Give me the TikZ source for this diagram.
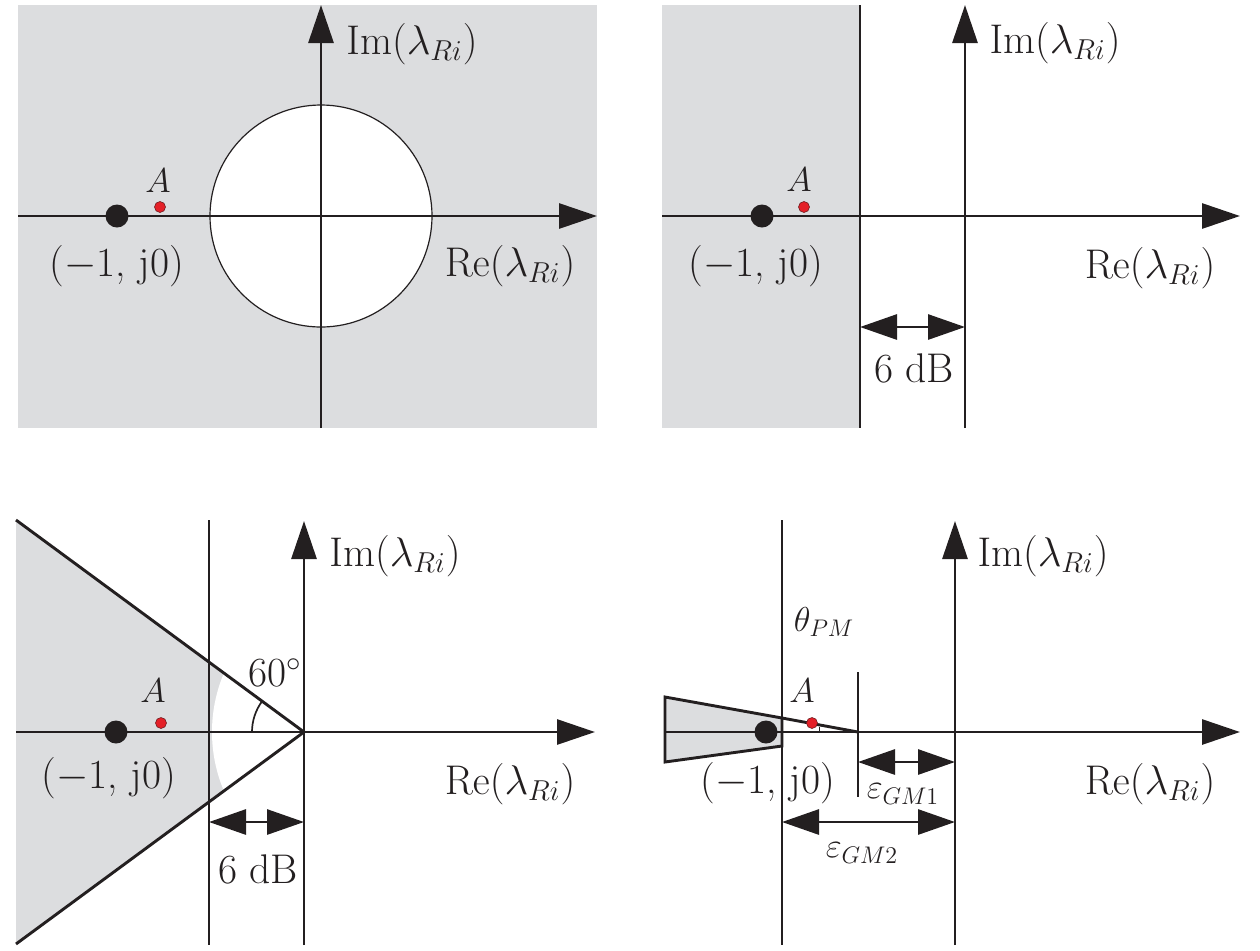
\documentclass[tikz,border=0pt]{standalone}
\usetikzlibrary{arrows.meta}
\definecolor{lgray}{RGB}{220,221,223}
\definecolor{ink}{RGB}{35,31,32}
\definecolor{dotred}{RGB}{228,32,40}
\begin{document}
\begin{tikzpicture}[x=0.5pt,y=-0.5pt,
  axis/.style={draw=ink,line width=1.45pt,-{Triangle[length=19pt,width=12.5pt]}},
  dimarrow/.style={draw=ink,line width=1.45pt,{Triangle[length=18.5pt,width=12.5pt]}-{Triangle[length=18.5pt,width=12.5pt]}},
  bound/.style={draw=ink,line width=1.45pt},
  lbl/.style={inner sep=0pt,font=\fontsize{20.74}{24}\selectfont,text=ink},
  albl/.style={inner sep=0pt,font=\fontsize{17.28}{20}\selectfont,text=ink},
  mlbl/.style={inner sep=0pt,font=\fontsize{17.28}{20}\selectfont,text=ink},
  bigdot/.style={circle,fill=ink,minimum size=11.5pt,inner sep=0pt},
  reddot/.style={circle,fill=dotred,draw=ink!60!dotred,line width=0.3pt,minimum size=5.5pt,inner sep=0pt},
]
\useasboundingbox (0,0) rectangle (1260,950);

% ---------------- Panel 1 ----------------
\fill[lgray] (18,5) rectangle (597,428);
\fill[white] (321,216) circle (111);
\draw[ink,line width=0.6pt] (321,216) circle (111);
\coordinate (p1xl) at (18,216);
\coordinate (p1xr) at (597,216);
\coordinate (p1yb) at (321,428);
\coordinate (p1yt) at (321,5);
\draw[axis] (p1xl) -- (p1xr);
\draw[axis] (p1yb) -- (p1yt);
\node[bigdot] (p1m) at (117,216) {};
\node[reddot] (p1a) at (160,207) {};
\node[albl] (p1A) at (158,181) {$A$};
\node[lbl] (p1pt) at (117,266) {($-$1, j0)};
\node[lbl] (p1re) at (510,266) {$\mathrm{Re}(\lambda_{Ri})$};
\node[lbl] (p1im) at (412,44) {$\mathrm{Im}(\lambda_{Ri})$};

% ---------------- Panel 2 ----------------
\fill[lgray] (662,5) rectangle (860,428);
\coordinate (p2vt) at (860,5);
\coordinate (p2vb) at (860,428);
\draw[bound] (p2vt) -- (p2vb);
\coordinate (p2xl) at (662,216);
\coordinate (p2xr) at (1240,216);
\coordinate (p2yb) at (965,428);
\coordinate (p2yt) at (965,5);
\draw[axis] (p2xl) -- (p2xr);
\draw[axis] (p2yb) -- (p2yt);
\node[bigdot] (p2m) at (762,216) {};
\node[reddot] (p2a) at (804,207) {};
\node[albl] (p2A) at (799,180) {$A$};
\node[lbl] (p2pt) at (756,266) {($-$1, j0)};
\node[lbl] (p2re) at (1150,268) {$\mathrm{Re}(\lambda_{Ri})$};
\node[lbl] (p2im) at (1055,43) {$\mathrm{Im}(\lambda_{Ri})$};
\coordinate (p2dl) at (860,327);
\coordinate (p2dr) at (965,327);
\draw[dimarrow] (p2dl) -- (p2dr);
\node[lbl] (p2db) at (914,368) {6 dB};

% ---------------- Panel 3 ----------------
\coordinate (p3c1) at (16,520);
\coordinate (p3o) at (304,732);
\coordinate (p3c2) at (16,944);
\fill[lgray] (p3c1) -- (p3o) -- (p3c2) -- cycle;
\begin{scope}
  \clip (209,600) rectangle (304,860);
  \fill[white] (363,732) circle (151);
\end{scope}
\draw[bound] (p3c1) -- (p3o) -- (p3c2);
\coordinate (p3vt) at (209,520);
\coordinate (p3vb) at (209,945);
\draw[bound] (p3vt) -- (p3vb);
\coordinate (p3xl) at (16,732);
\coordinate (p3xr) at (595,732);
\coordinate (p3yb) at (304,945);
\coordinate (p3yt) at (304,521);
\draw[axis] (p3xl) -- (p3xr);
\draw[axis] (p3yb) -- (p3yt);
\draw[ink,line width=0.85pt] (252,732) arc[start angle=180,end angle=216.4,radius=52];
\node[lbl] (p3ang) at (275,673) {60$^\circ$};
\node[bigdot] (p3m) at (116,732) {};
\node[reddot] (p3a) at (161,723) {};
\node[albl] (p3A) at (153,691) {$A$};
\node[lbl] (p3pt) at (109,778) {($-$1, j0)};
\node[lbl] (p3re) at (510,784) {$\mathrm{Re}(\lambda_{Ri})$};
\node[lbl] (p3im) at (395,556) {$\mathrm{Im}(\lambda_{Ri})$};
\coordinate (p3dl) at (209,822);
\coordinate (p3dr) at (304,822);
\draw[dimarrow] (p3dl) -- (p3dr);
\node[lbl] (p3db) at (258,869) {6 dB};

% ---------------- Panel 4 ----------------
\coordinate (p4t1) at (665,697);
\coordinate (p4t2) at (782,718);
\coordinate (p4t3) at (782,746);
\coordinate (p4t4) at (665,762);
\coordinate (p4apex) at (858,732);
\filldraw[fill=lgray,bound] (p4t1) -- (p4t2) -- (p4t3) -- (p4t4) -- cycle;
\draw[bound] (p4t2) -- (p4apex);
\coordinate (p4vt) at (782,520);
\coordinate (p4vb) at (782,945);
\draw[bound] (p4vt) -- (p4vb);
\coordinate (p4st) at (858,672);
\coordinate (p4sb) at (858,797);
\draw[bound] (p4st) -- (p4sb);
\coordinate (p4xl) at (665,732);
\coordinate (p4xr) at (1240,732);
\coordinate (p4yb) at (955,945);
\coordinate (p4yt) at (955,521);
\draw[axis] (p4xl) -- (p4xr);
\draw[axis] (p4yb) -- (p4yt);
\coordinate (p4k1) at (819,726.5);
\coordinate (p4k2) at (819,732);
\draw[ink,line width=0.5pt] (p4k1) -- (p4k2);
\node[bigdot] (p4m) at (766,732) {};
\node[reddot] (p4a) at (812,723) {};
\node[albl] (p4A) at (802,691) {$A$};
\node[mlbl] (p4th) at (824,622) {$\theta_{PM}$};
\node[lbl] (p4pt) at (768,783) {($-$1, j0)};
\node[lbl] (p4re) at (1150,784) {$\mathrm{Re}(\lambda_{Ri})$};
\node[lbl] (p4im) at (1043,556) {$\mathrm{Im}(\lambda_{Ri})$};
\coordinate (p4g1l) at (858,762);
\coordinate (p4g1r) at (955,762);
\draw[dimarrow] (p4g1l) -- (p4g1r);
\node[mlbl] (p4g1) at (903,794) {$\varepsilon_{GM1}$};
\coordinate (p4g2l) at (782,822);
\coordinate (p4g2r) at (955,822);
\draw[dimarrow] (p4g2l) -- (p4g2r);
\node[mlbl] (p4g2) at (862,853) {$\varepsilon_{GM2}$};
\end{tikzpicture}
\end{document}
